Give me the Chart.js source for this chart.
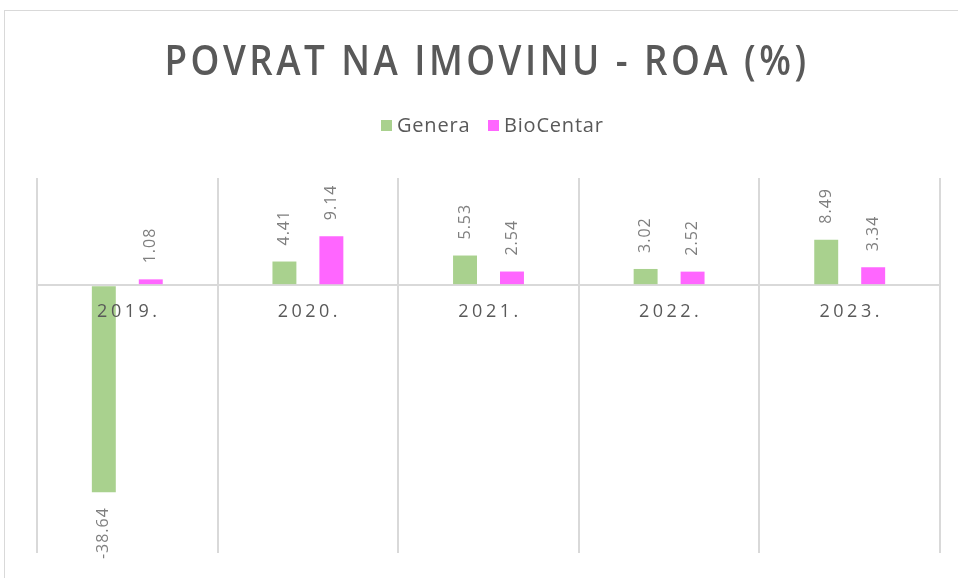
<!DOCTYPE html>
<html>
<head>
<meta charset="utf-8">
<script src="https://cdn.jsdelivr.net/npm/chart.js@4"></script>
<style>
  html, body { margin: 0; padding: 0; background: #fff; }
  #wrap { width: 958px; height: 578px; position: relative; }
</style>
</head>
<body>
<div id="wrap"><canvas id="roa"></canvas></div>
<script>
// data
const years = ['2019.', '2020.', '2021.', '2022.', '2023.'];
const genera = [-38.64, 4.41, 5.53, 3.02, 8.49];
const bioCentar = [1.08, 9.14, 2.54, 2.52, 3.34];
const seriesNames = ['Genera', 'BioCentar'];
const chartTitle = 'POVRAT NA IMOVINU - ROA (%)';

const GREY = '#595959';
const GRID = '#d9d9d9';

// frame, title, legend, category labels and value labels
const decor = {
  id: 'decor',
  beforeDraw(chart) {
    const ctx = chart.ctx;
    ctx.save();
    ctx.strokeStyle = '#d9d9d9';
    ctx.lineWidth = 1;
    ctx.strokeRect(4.5, 10.5, 1000, 600);

    // title, squeezed a bit like a condensed face
    ctx.fillStyle = GREY;
    ctx.font = '600 42px "Open Sans"';
    ctx.letterSpacing = '4px';
    ctx.textAlign = 'center';
    ctx.textBaseline = 'middle';
    const w = ctx.measureText(chartTitle).width;
    const sx = 645 / w;
    ctx.save();
    ctx.translate(487, 63);
    ctx.scale(sx, 1);
    ctx.fillText(chartTitle, 0, 0);
    ctx.restore();

    // legend
    ctx.letterSpacing = '0.8px';
    ctx.font = '20px "Open Sans"';
    ctx.textAlign = 'left';
    const colors = [chart.data.datasets[0].backgroundColor, chart.data.datasets[1].backgroundColor];
    const lx = [381, 488];
    seriesNames.forEach((n, i) => {
      ctx.fillStyle = colors[i];
      ctx.fillRect(lx[i], 120, 11, 11);
      ctx.fillStyle = GREY;
      ctx.fillText(n, lx[i] + 16, 126);
    });
    ctx.restore();
  },
  afterDatasetsDraw(chart) {
    const ctx = chart.ctx;
    const x = chart.scales.x, y = chart.scales.y;
    const y0 = y.getPixelForValue(0);
    ctx.save();
    // category labels at zero line
    ctx.fillStyle = GREY;
    ctx.font = '18px "Open Sans"';
    ctx.letterSpacing = '3.5px';
    ctx.textAlign = 'center';
    ctx.textBaseline = 'middle';
    years.forEach((yr, i) => {
      ctx.fillText(yr, x.getPixelForValue(i) + 1.5, y0 + 27);
    });
    // value labels, rotated
    ctx.letterSpacing = '1px';
    ctx.font = '16px "Open Sans"';
    ctx.fillStyle = '#7f7f7f';
    chart.data.datasets.forEach((ds, di) => {
      const meta = chart.getDatasetMeta(di);
      meta.data.forEach((bar, i) => {
        const v = ds.data[i];
        ctx.save();
        ctx.translate(bar.x, bar.y);
        ctx.rotate(-Math.PI / 2);
        ctx.textBaseline = 'middle';
        if (v >= 0) {
          ctx.textAlign = 'left';
          ctx.fillText(v.toFixed(2), 16, 0);
        } else {
          ctx.textAlign = 'right';
          ctx.fillText(v.toFixed(2), -15, 0);
        }
        ctx.restore();
      });
    });
    ctx.restore();
  }
};

new Chart(document.getElementById('roa'), {
  type: 'bar',
  data: {
    labels: years,
    datasets: [
      { label: seriesNames[0], data: genera, backgroundColor: '#a9d18e' },
      { label: seriesNames[1], data: bioCentar, backgroundColor: '#ff66ff' }
    ]
  },
  options: {
    responsive: true,
    maintainAspectRatio: false,
    animation: false,
    layout: { padding: { left: 37, right: 18, top: 178, bottom: 25 } },
    datasets: { bar: { categoryPercentage: 0.52, barPercentage: 0.51 } },
    plugins: { legend: { display: false }, title: { display: false }, tooltip: { enabled: false } },
    scales: {
      x: {
        grid: { offset: true, color: GRID, lineWidth: 2, drawTicks: false },
        border: { display: false },
        ticks: { display: false }
      },
      y: {
        min: -50, max: 20,
        ticks: { display: false, stepSize: 10 },
        grid: {
          drawTicks: false,
          lineWidth: 2,
          color: c => (c.tick && c.tick.value === 0 ? GRID : 'rgba(0,0,0,0)')
        },
        border: { display: false }
      }
    }
  },
  plugins: [decor]
});
</script>
</body>
</html>
